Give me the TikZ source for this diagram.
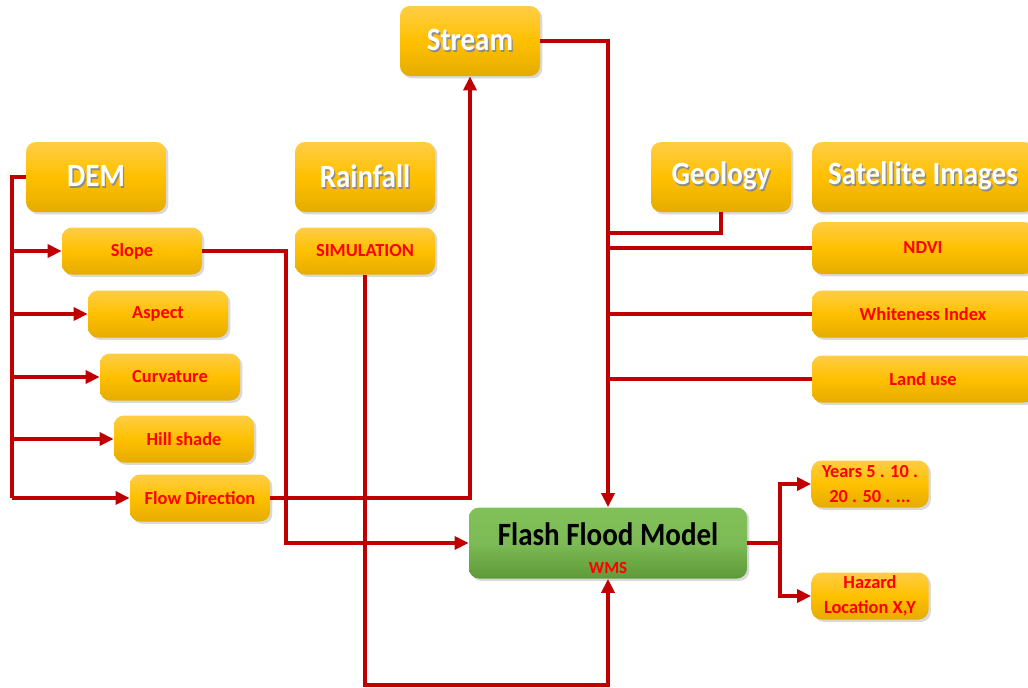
\documentclass[tikz,border=0pt]{standalone}
\usepackage{fontspec}
\setmainfont{Carlito}
\usetikzlibrary{arrows.meta,shadows,calc}
\definecolor{FfRed}{HTML}{C00000}
\definecolor{FfText}{HTML}{FF0000}
\definecolor{FfTop}{HTML}{FFCD45}
\definecolor{FfMid}{HTML}{FFC000}
\definecolor{FfBot}{HTML}{E5AC00}
\definecolor{FfGreenTop}{HTML}{82C05A}
\definecolor{FfGreenBot}{HTML}{5E9A38}
\newcommand\shtxt[1]{\scalebox{1}[1.12]{\makebox[0pt][l]{\raisebox{-0.7pt}{\hspace{0.7pt}\color{black!45}#1}}#1}}
\tikzset{
  ffbox/.style={rounded corners=5pt, top color=FfTop, bottom color=FfBot, middle color=FfMid,
    drop shadow={opacity=0.3,shadow xshift=1.2pt,shadow yshift=-1.2pt},
    inner sep=0pt, align=center},
  bigbox/.style={ffbox, minimum width=70pt, minimum height=35pt, text=white,
    font=\bfseries\fontsize{14.5}{16}\selectfont},
  subbox/.style={ffbox, minimum width=70pt, minimum height=23.5pt, text=FfText,
    font=\bfseries\fontsize{9.2}{12.5}\selectfont},
  modelbox/.style={ffbox, top color=FfGreenTop, bottom color=FfGreenBot, middle color=FfGreenTop!85!FfGreenBot,
    minimum width=139pt, minimum height=35.5pt, text=black, font=\bfseries},
  link/.style={FfRed, line width=2pt},
  linkarr/.style={link, -{Triangle[length=7pt,width=6.5pt]}},
}
\begin{document}
\begin{tikzpicture}[x=0.5pt,y=-0.5pt]
        \useasboundingbox (0,0) rectangle (1028,687);
        \node[bigbox] (stream) at (470,41) {\shtxt{Stream}};
        \node[bigbox] (dem) at (96,177) {\shtxt{DEM}};
        \node[bigbox] (rain) at (365,177) {\shtxt{Rainfall}};
        \node[bigbox] (geo) at (721,177) {\shtxt{Geology}};
        \node[bigbox, minimum width=111pt] (sat) at (923,177) {\shtxt{Satellite Images}};
        \node[subbox] (slope) at (132,251) {Slope};
        \node[subbox] (sim) at (365,251) {SIMULATION};
        \node[subbox, minimum width=111pt, minimum height=26pt] (ndvi) at (923,248) {NDVI};
        \node[subbox] (aspect) at (158,314) {Aspect};
        \node[subbox, minimum width=111pt] (white) at (923,314) {Whiteness Index};
        \node[subbox] (curv) at (170,377) {Curvature};
        \node[subbox, minimum width=111pt] (land) at (923,379) {Land use};
        \node[subbox] (hill) at (184,439) {Hill shade};
        \node[subbox] (flow) at (200,498) {Flow Direction};
        \node[modelbox] (ffm) at (608,543) {\rule{0pt}{17pt}{\fontsize{14.5}{17}\selectfont\scalebox{1}[1.12]{Flash Flood Model}}\\[2pt]{\color{FfText}\fontsize{8.5}{10}\selectfont WMS}};
        \node[subbox, minimum width=58.5pt] (years) at (870,484) {Years 5 . 10 .\\20 . 50 . ...};
        \node[subbox, minimum width=58.5pt] (hazard) at (870,596) {Hazard\\Location X,Y};
        \draw[link] (dem.west) -- ++(-14,0) coordinate (dembus) -- (dembus |- flow.west);
        \foreach \n in {slope,aspect,curv,hill,flow}
          \draw[linkarr] (dembus |- \n.west) -- (\n.west);
        \draw[linkarr] (slope.east) -- ++(84,0) |- (ffm.west);
        \draw[linkarr] (flow.east) -| (stream.south);
        \draw[linkarr] (sim.south) -- ++(0,410) -| (ffm.south);
        \draw[linkarr] (stream.east) -| (ffm.north);
        \draw[link] (geo.south) -- ++(0,21) coordinate (geofoot) -- (geofoot -| ffm.north);
        \foreach \n in {ndvi,white,land}
          \draw[link] (\n.west) -- (\n.west -| ffm.north);
        \draw[link] (ffm.east) -- ++(33,0) coordinate (outbus);
        \draw[linkarr] (outbus) |- (years.west);
        \draw[linkarr] (outbus) |- (hazard.west);
      \end{tikzpicture}
\end{document}
